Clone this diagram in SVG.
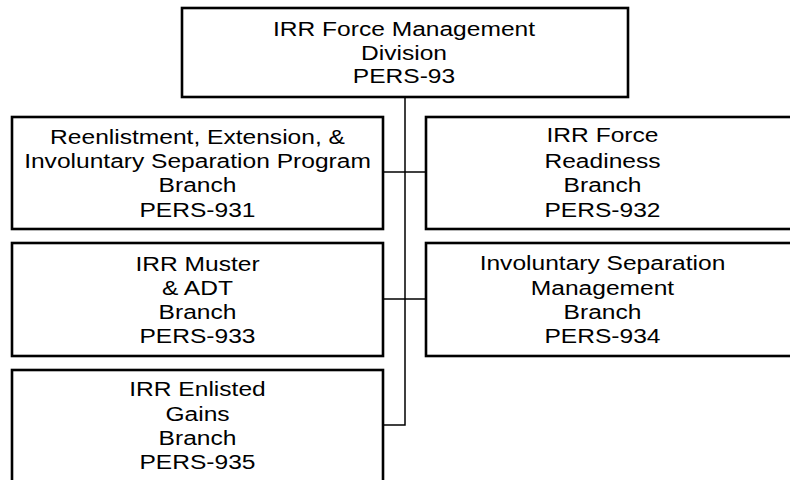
<svg xmlns="http://www.w3.org/2000/svg" width="790" height="480" viewBox="0 0 790 480">
<style>
.box{fill:#fff;stroke:#000;stroke-width:2.6}
.conn{fill:none;stroke:#000;stroke-width:1.5}
text{font-family:"Liberation Sans",Arial,sans-serif;font-size:21px;fill:#000;text-anchor:middle}
</style>
<rect width="790" height="480" fill="#fff"/>
<g id="connectors">
<path class="conn" d="M405 97 V425 H384"/>
<path class="conn" d="M384 172 H426"/>
<path class="conn" d="M384 299 H426"/>
</g>
<g id="pers93">
<rect class="box" x="182" y="8" width="446" height="89"/>
<g transform="translate(404 0) scale(1.17 1)">
<text x="0" y="36">IRR Force Management</text>
<text x="0" y="60">Division</text>
<text x="0" y="83">PERS-93</text>
</g>
</g>
<g id="pers931">
<rect class="box" x="12" y="117" width="371" height="112"/>
<g transform="translate(197.5 0) scale(1.17 1)">
<text x="0" y="144">Reenlistment, Extension, &amp;</text>
<text x="0" y="168">Involuntary Separation Program</text>
<text x="0" y="192">Branch</text>
<text x="0" y="217">PERS-931</text>
</g>
</g>
<g id="pers932">
<rect class="box" x="426" y="117" width="371" height="112"/>
<g transform="translate(602.5 0) scale(1.17 1)">
<text x="0" y="142">IRR Force</text>
<text x="0" y="168">Readiness</text>
<text x="0" y="192">Branch</text>
<text x="0" y="217">PERS-932</text>
</g>
</g>
<g id="pers933">
<rect class="box" x="12" y="243" width="371" height="113"/>
<g transform="translate(197.5 0) scale(1.17 1)">
<text x="0" y="271">IRR Muster</text>
<text x="0" y="295">&amp; ADT</text>
<text x="0" y="319">Branch</text>
<text x="0" y="343">PERS-933</text>
</g>
</g>
<g id="pers934">
<rect class="box" x="426" y="243" width="371" height="113"/>
<g transform="translate(602.5 0) scale(1.17 1)">
<text x="0" y="270">Involuntary Separation</text>
<text x="0" y="295">Management</text>
<text x="0" y="319">Branch</text>
<text x="0" y="343">PERS-934</text>
</g>
</g>
<g id="pers935">
<rect class="box" x="12" y="370" width="371" height="120"/>
<g transform="translate(197.5 0) scale(1.17 1)">
<text x="0" y="396">IRR Enlisted</text>
<text x="0" y="421">Gains</text>
<text x="0" y="445">Branch</text>
<text x="0" y="469">PERS-935</text>
</g>
</g>
</svg>
